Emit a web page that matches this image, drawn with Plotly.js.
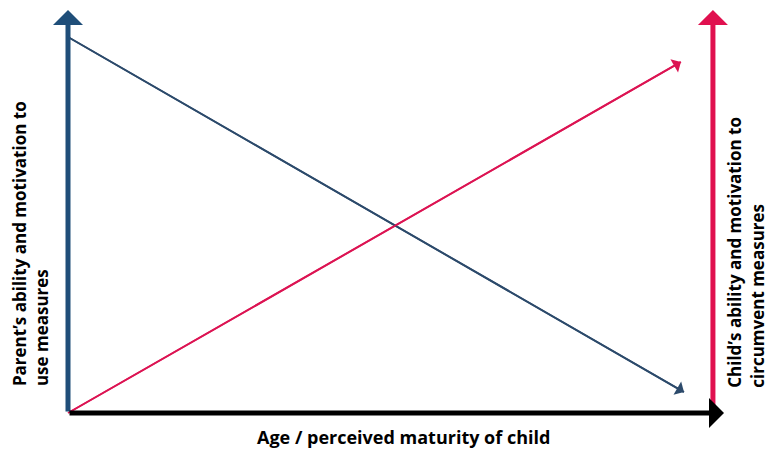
<!DOCTYPE html>
<html>
<head>
<meta charset="utf-8">
<script src="https://cdn.plot.ly/plotly-3.0.1.min.js"></script>
<style>html,body{margin:0;padding:0;background:#fff;}#chart{width:768px;height:450px;}</style>
</head>
<body>
<div id="chart"></div>
<script>
// Conceptual data: age (0..1) vs. ability/motivation (0..1)
const parentX = [0, 1.0];
const parentY = [0.933, 0.052];
const childX = [0, 0.995];
const childY = [0, 0.871];

// Axis extents (data units)
const axisXEnd = 1.065;
const axisYEnd = 1.0;
const rightAxisX = 1.047;

const xTitle = "<b>Age / perceived maturity of child</b>";
const leftTitle = "<b>Parent’s ability and motivation to<br>use measures</b>";
const rightTitle = "<b>Child’s ability and motivation to<br>circumvent measures</b>";

const blue = "#2C4A6B";
const blueAxis = "#1F4E79";
const red = "#DC1453";
const redAxis = "#E0104F";

const traces = [
  {x: parentX, y: parentY, mode: "lines", line: {color: blue, width: 2}, hoverinfo: "skip"},
  {x: childX, y: childY, mode: "lines", line: {color: red, width: 2}, hoverinfo: "skip"}
];

function arrow(x0, y0, x1, y1, color, width, size) {
  return {x: x1, y: y1, ax: x0, ay: y0, xref: "x", yref: "y", axref: "x", ayref: "y",
    text: "", showarrow: true, arrowhead: 1, arrowsize: size, arrowwidth: width, arrowcolor: color};
}

const font = "'Open Sans', 'DejaVu Sans', sans-serif";
const annotations = [
  arrow(parentX[0], parentY[0], parentX[1], parentY[1], blue, 1.6, 1.6),
  arrow(childX[0], childY[0], childX[1], childY[1], red, 1.6, 1.6),
  arrow(0, 0, 0, axisYEnd, blueAxis, 5, 1),
  arrow(rightAxisX, 0, rightAxisX, axisYEnd, redAxis, 5, 1),
  arrow(0, 0, axisXEnd, 0, "#000000", 5, 1),
  {text: xTitle, xref: "paper", yref: "paper", x: 0.525, y: 0.029, showarrow: false,
   font: {family: font, size: 18, color: "#000"}, xanchor: "center", yanchor: "middle"},
  {text: leftTitle, xref: "paper", yref: "paper", x: 0.040, y: 0.138, showarrow: false, textangle: -90,
   align: "left", font: {family: font, size: 17, color: "#000"}, xanchor: "center", yanchor: "bottom"},
  {text: rightTitle, xref: "paper", yref: "paper", x: 0.9715, y: 0.133, showarrow: false, textangle: -90,
   align: "left", font: {family: font, size: 17, color: "#000"}, xanchor: "center", yanchor: "bottom"}
];

const layout = {
  width: 768, height: 450,
  margin: {l: 0, r: 0, t: 0, b: 0},
  paper_bgcolor: "#fff", plot_bgcolor: "#fff",
  showlegend: false,
  xaxis: {range: [-0.1104, 1.1364], visible: false, fixedrange: true},
  yaxis: {range: [-0.0918, 1.0248], visible: false, fixedrange: true},
  annotations: annotations
};

Plotly.newPlot("chart", traces, layout, {staticPlot: true, displayModeBar: false});
</script>
</body>
</html>
